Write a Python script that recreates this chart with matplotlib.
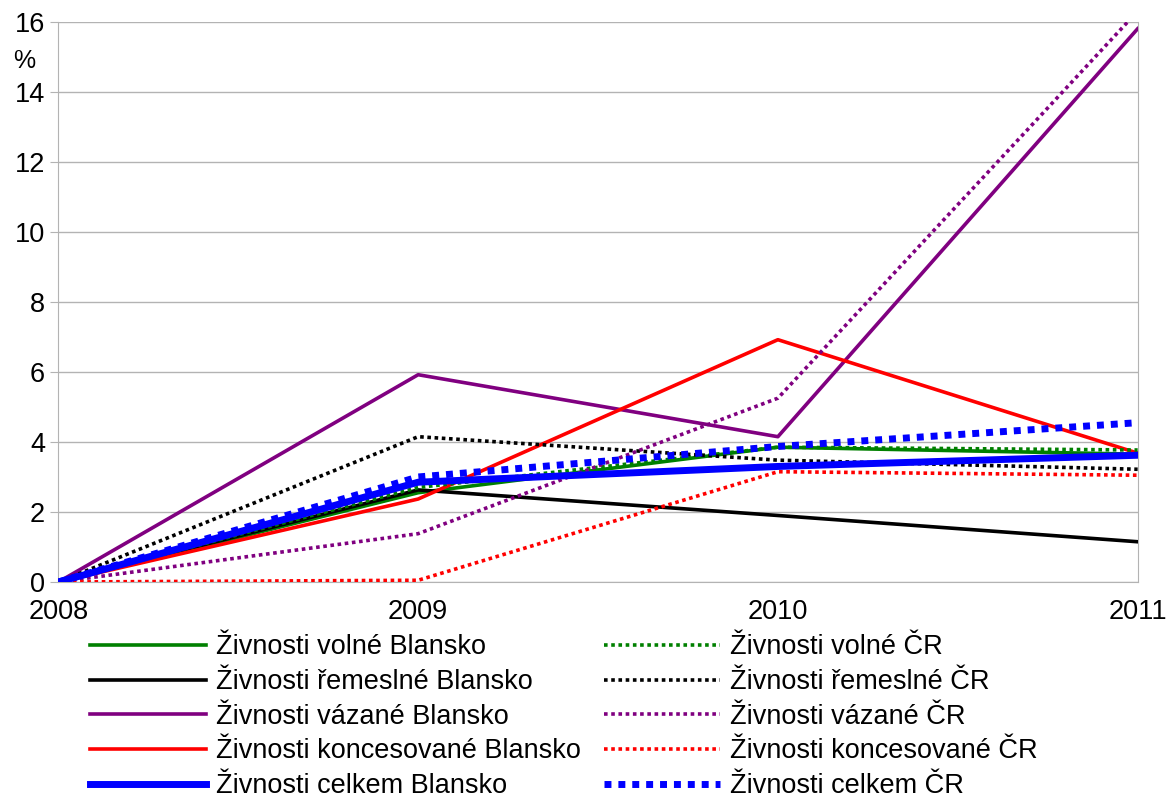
import matplotlib.pyplot as plt

plt.rcParams['font.family'] = ['Liberation Sans', 'DejaVu Sans']

roky = [2008, 2009, 2010, 2011]

# Blansko
volne_bk = [0, 2.55, 3.85, 3.65]
remeslne_bk = [0, 2.63, 1.9, 1.15]
vazane_bk = [0, 5.92, 4.15, 15.8]
koncesovane_bk = [0, 2.37, 6.92, 3.68]
celkem_bk = [0, 2.85, 3.3, 3.62]

# ČR
volne_cr = [0, 2.7, 3.85, 3.77]
remeslne_cr = [0, 4.15, 3.48, 3.22]
vazane_cr = [0, 1.38, 5.25, 16.3]
koncesovane_cr = [0, 0.05, 3.15, 3.05]
celkem_cr = [0, 3.0, 3.87, 4.55]

fig = plt.figure(figsize=(11.68, 8.05), dpi=100)
ax = fig.add_axes([0.05, 0.277, 0.924, 0.696])

dot = (0, (1, 1))
lw = 2.6
lw_celk = 5.0
ax.plot(roky, volne_bk, color='#008000', lw=lw, label='Živnosti volné Blansko', zorder=3)
ax.plot(roky, remeslne_bk, color='black', lw=lw, label='Živnosti řemeslné Blansko', zorder=3)
ax.plot(roky, vazane_bk, color='#800080', lw=lw, label='Živnosti vázané Blansko', zorder=3)
ax.plot(roky, koncesovane_bk, color='#ff0000', lw=lw, label='Živnosti koncesované Blansko', zorder=3)
ax.plot(roky, celkem_bk, color='#0000ff', lw=lw_celk, label='Živnosti celkem Blansko', zorder=4)

ax.plot(roky, volne_cr, color='#008000', lw=lw, ls=dot, label='Živnosti volné ČR', zorder=3)
ax.plot(roky, remeslne_cr, color='black', lw=lw, ls=dot, label='Živnosti řemeslné ČR', zorder=3)
ax.plot(roky, vazane_cr, color='#800080', lw=lw, ls=dot, label='Živnosti vázané ČR', zorder=3)
ax.plot(roky, koncesovane_cr, color='#ff0000', lw=lw, ls=dot, label='Živnosti koncesované ČR', zorder=3)
ax.plot(roky, celkem_cr, color='#0000ff', lw=lw_celk, ls=dot, label='Živnosti celkem ČR', zorder=5)

ax.set_xlim(2008, 2011)
ax.set_ylim(0, 16)
ax.set_xticks(roky)
ax.set_yticks(range(0, 17, 2))
ax.tick_params(labelsize=19.5, color='#b3b3b3', length=6)
ax.tick_params(axis='x', length=0, pad=12)
ax.yaxis.grid(True, color='#b3b3b3', lw=1)
ax.set_axisbelow(True)
for s in ax.spines.values():
    s.set_color('#b3b3b3')
ax.spines['top'].set_visible(False)

fig.text(0.011, 0.916, '%', fontsize=18)

fig.legend(loc='upper left', bbox_to_anchor=(0.077, 0.212), ncol=2, frameon=False,
           fontsize=19.5, handlelength=4.28, handletextpad=0.37, labelspacing=0.32,
           columnspacing=0.85, borderpad=0, borderaxespad=0)

plt.savefig('out.png')
